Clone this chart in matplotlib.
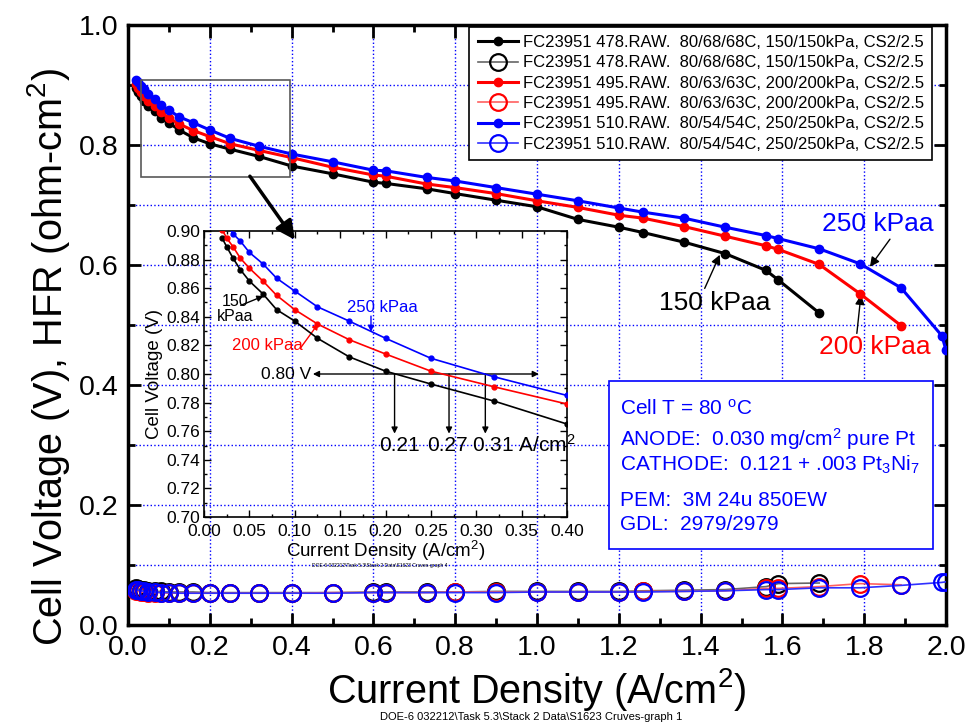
import matplotlib
matplotlib.use("Agg")
import matplotlib.pyplot as plt
from matplotlib.ticker import MultipleLocator, FormatStrFormatter
from matplotlib.patches import Rectangle

# ---------------- data ----------------
current_density = [0.02, 0.025, 0.032, 0.04, 0.05, 0.065, 0.08, 0.1, 0.125, 0.16,
                   0.2, 0.25, 0.32, 0.4, 0.5, 0.6, 0.63, 0.73, 0.8, 0.9,
                   1.0, 1.1, 1.2, 1.26, 1.36, 1.46, 1.56, 1.59, 1.69, 1.79,
                   1.89, 1.99, 2.0]

voltage_150 = [0.895, 0.889, 0.881, 0.873, 0.865, 0.856, 0.845, 0.837, 0.825, 0.812,
               0.802, 0.793, 0.781, 0.765, 0.752, 0.738, 0.736, 0.727, 0.719, 0.708,
               0.697, 0.676, 0.663, 0.654, 0.638, 0.619, 0.591, 0.575, 0.520]
voltage_200 = [0.901, 0.895, 0.889, 0.881, 0.874, 0.865, 0.855, 0.845, 0.835, 0.824,
               0.814, 0.802, 0.791, 0.779, 0.763, 0.750, 0.748, 0.735, 0.729, 0.719,
               0.707, 0.696, 0.683, 0.678, 0.664, 0.648, 0.632, 0.626, 0.601, 0.552,
               0.499]
voltage_250 = [0.909, 0.905, 0.898, 0.893, 0.885, 0.877, 0.867, 0.858, 0.847, 0.837,
               0.825, 0.811, 0.798, 0.785, 0.772, 0.758, 0.757, 0.746, 0.740, 0.729,
               0.718, 0.707, 0.695, 0.688, 0.678, 0.663, 0.649, 0.644, 0.627, 0.602,
               0.562, 0.482, 0.458]

hfr_150 = [0.061, 0.060, 0.059, 0.058, 0.057, 0.056, 0.056, 0.055, 0.055, 0.055,
           0.054, 0.054, 0.054, 0.054, 0.054, 0.055, 0.055, 0.055, 0.055, 0.056,
           0.056, 0.056, 0.056, 0.057, 0.058, 0.059, 0.064, 0.069, 0.070]
hfr_200 = [0.057, 0.056, 0.055, 0.055, 0.054, 0.054, 0.054, 0.053, 0.053, 0.053,
           0.053, 0.053, 0.053, 0.053, 0.054, 0.054, 0.054, 0.054, 0.055, 0.055,
           0.055, 0.055, 0.055, 0.056, 0.056, 0.057, 0.061, 0.061, 0.064, 0.069,
           0.067]
hfr_250 = [0.059, 0.058, 0.057, 0.056, 0.055, 0.055, 0.054, 0.054, 0.053, 0.053,
           0.053, 0.053, 0.053, 0.053, 0.053, 0.054, 0.054, 0.054, 0.054, 0.054,
           0.055, 0.055, 0.055, 0.055, 0.056, 0.057, 0.059, 0.059, 0.062, 0.062,
           0.066, 0.071, 0.072]

legend_labels = [
    "FC23951 478.RAW.  80/68/68C, 150/150kPa, CS2/2.5",
    "FC23951 495.RAW.  80/63/63C, 200/200kPa, CS2/2.5",
    "FC23951 510.RAW.  80/54/54C, 250/250kPa, CS2/2.5",
]
curve_labels = ["150 kPaa", "200 kPaa", "250 kPaa"]
crossing_labels = ["0.21", "0.27", "0.31 A/cm$^2$"]
crossing_currents = [0.21, 0.27, 0.31]
info_lines = [
    "Cell T = 80 $^{o}$C",
    "ANODE:  0.030 mg/cm$^2$ pure Pt",
    "CATHODE:  0.121 + .003 Pt$_3$Ni$_7$",
    "PEM:  3M 24u 850EW",
    "GDL:  2979/2979",
]
caption_main = r"DOE-6 032212\Task 5.3\Stack 2 Data\S1623 Cruves-graph 1"
caption_inset = r"DOE-6 032212\Task 5.3\Stack 2 Data\S1623 Cruves-graph 4"

# ---------------- style ----------------
FONT = ["Liberation Sans", "DejaVu Sans"]
plt.rcParams["font.family"] = FONT
plt.rcParams["mathtext.fontset"] = "custom"
plt.rcParams["mathtext.rm"] = "Liberation Sans"
plt.rcParams["mathtext.default"] = "regular"

W, H = 967, 723
fig = plt.figure(figsize=(W / 100, H / 100), dpi=100)
ax = fig.add_axes([128 / W, 98 / H, 818 / W, 600 / H])

series = [
    (voltage_150, hfr_150, "black", "0.4", legend_labels[0]),
    (voltage_200, hfr_200, "red", "#ff6060", legend_labels[1]),
    (voltage_250, hfr_250, "blue", "#3030ff", legend_labels[2]),
]

for volts, hfr, col, hcol, lab in series:
    x = current_density[:len(volts)]
    ax.plot(x, volts, "-o", color=col, lw=2.2, ms=6, label=lab, zorder=4)
    ax.plot(x, hfr, "-o", color=hcol, lw=1.2, ms=12, mfc="none", mec=col,
            mew=1.6, label=lab, zorder=4)

ax.set_xlim(0, 2.0)
ax.set_ylim(0, 1.0)
ax.xaxis.set_major_locator(MultipleLocator(0.2))
ax.xaxis.set_minor_locator(MultipleLocator(0.1))
ax.yaxis.set_major_locator(MultipleLocator(0.2))
ax.yaxis.set_minor_locator(MultipleLocator(0.1))
ax.xaxis.set_major_formatter(FormatStrFormatter("%.1f"))
ax.yaxis.set_major_formatter(FormatStrFormatter("%.1f"))
ax.grid(axis="x", which="major", color="blue", ls=":", lw=1)
ax.grid(axis="y", which="both", color="blue", ls=":", lw=1)
ax.tick_params(which="both", direction="in", top=True, right=True, width=2)
ax.tick_params(which="major", length=9, labelsize=20.5, pad=7)
ax.tick_params(which="minor", length=5)
for s in ax.spines.values():
    s.set_linewidth(2.5)

ax.set_xlabel("Current Density (A/cm$^2$)", fontsize=28.5)
ax.set_ylabel("Cell Voltage (V), HFR (ohm-cm$^2$)", fontsize=28.5)
ax.xaxis.set_label_coords(0.5, -0.068)
ax.yaxis.set_label_coords(-0.069, 0.447)

leg = ax.legend(loc="upper right", bbox_to_anchor=(0.983, 0.997), fontsize=12,
                fancybox=False, edgecolor="black", framealpha=1,
                handlelength=2.4, handletextpad=0.3, borderpad=0.5,
                labelspacing=0.32, borderaxespad=0)
leg.get_frame().set_linewidth(1.2)
leg.set_zorder(10)

# curve labels on the main plot
arrow_thin = dict(arrowstyle="-|>", color="black", lw=1, mutation_scale=14,
                  shrinkA=0, shrinkB=0)
ax.text(1.834, 0.668, curve_labels[2], color="blue", fontsize=19,
        ha="center", va="center")
ax.annotate("", xy=(1.814, 0.597), xytext=(1.863, 0.643), arrowprops=arrow_thin)
ax.text(1.435, 0.5375, curve_labels[0], color="black", fontsize=19,
        ha="center", va="center")
ax.annotate("", xy=(1.447, 0.617), xytext=(1.41, 0.561), arrowprops=arrow_thin)
ax.text(1.826, 0.463, curve_labels[1], color="red", fontsize=19,
        ha="center", va="center")
ax.annotate("", xy=(1.792, 0.55), xytext=(1.782, 0.486), arrowprops=arrow_thin)

# zoom region marker and pointer to the inset
ax.add_patch(Rectangle((0.031, 0.746), 0.365, 0.163, fill=False,
                       edgecolor="0.35", lw=1.2, zorder=5))
ax.annotate("", xy=(0.408, 0.642), xytext=(0.298, 0.748),
            arrowprops=dict(arrowstyle="-|>", color="black", lw=2.5,
                            mutation_scale=28, shrinkA=0, shrinkB=0), zorder=6)

# info box
ax.add_patch(Rectangle((0.588, 0.1267), 0.396, 0.28, transform=ax.transAxes,
                       facecolor="white", edgecolor="blue", lw=1.2, zorder=7))
info_y = [0.36, 0.31, 0.2667, 0.2083, 0.1667]
for txt, yy in zip(info_lines, info_y):
    ax.text(0.601, yy, txt, transform=ax.transAxes, color="blue", fontsize=15,
            ha="left", va="center", zorder=8)

fig.text(531 / W, 6 / H, caption_main, fontsize=8, ha="center", va="center")

# ---------------- inset ----------------
axin = fig.add_axes([204 / W, (H - 517) / H, 363 / W, 286 / H])
axin.patch.set_alpha(0)
for volts, hfr, col, hcol, lab in series:
    pts = [(i, v) for i, v in zip(current_density, volts) if i <= 0.4]
    axin.plot([p[0] for p in pts], [p[1] for p in pts], "-o", color=col,
              lw=1.2, ms=3.5, zorder=4)
axin.set_xlim(0, 0.4)
axin.set_ylim(0.70, 0.90)
axin.xaxis.set_major_locator(MultipleLocator(0.05))
axin.xaxis.set_minor_locator(MultipleLocator(0.025))
axin.yaxis.set_major_locator(MultipleLocator(0.02))
axin.yaxis.set_minor_locator(MultipleLocator(0.01))
axin.xaxis.set_major_formatter(FormatStrFormatter("%.2f"))
axin.yaxis.set_major_formatter(FormatStrFormatter("%.2f"))
axin.tick_params(which="both", direction="in", top=True, right=True, width=1)
axin.tick_params(which="major", length=5, labelsize=12.5, pad=3)
axin.tick_params(axis="x", which="major", pad=5)
axin.tick_params(which="minor", length=2.5)
for s in axin.spines.values():
    s.set_linewidth(1.2)
axin.set_xlabel("Current Density (A/cm$^2$)", fontsize=13.5, labelpad=0)
axin.set_ylabel("Cell Voltage (V)", fontsize=13.5, labelpad=2)

arrow_in = dict(arrowstyle="-|>", color="black", lw=1, mutation_scale=9,
                shrinkA=0, shrinkB=0)
axin.text(0.034, 0.8455, "150\nkPaa", fontsize=11.5,
          ha="center", va="center", linespacing=1.0)
axin.annotate("", xy=(0.0655, 0.8545), xytext=(0.0405, 0.848),
              arrowprops=arrow_in)
axin.text(0.197, 0.8466, curve_labels[2], fontsize=12,
          color="blue", ha="center", va="center")
axin.annotate("", xy=(0.184, 0.8295), xytext=(0.184, 0.8405),
              arrowprops=dict(arrow_in, color="blue"))
axin.text(0.0698, 0.8202, curve_labels[1], fontsize=12,
          color="red", ha="center", va="center")
axin.annotate("", xy=(0.1262, 0.8355), xytext=(0.106, 0.8179),
              arrowprops=dict(arrow_in, color="red"))

axin.text(0.1185, 0.7997, "0.80 V", fontsize=12.5, ha="right", va="center")
axin.annotate("", xy=(0.369, 0.80), xytext=(0.12, 0.80),
              arrowprops=dict(arrowstyle="<|-|>", color="black", lw=1,
                              mutation_scale=9, shrinkA=0, shrinkB=0))
for ci in crossing_currents:
    axin.annotate("", xy=(ci, 0.7583), xytext=(ci, 0.80), arrowprops=arrow_in)
axin.text(0.215, 0.7502, crossing_labels[0], fontsize=15,
          ha="center", va="center")
axin.text(0.2685, 0.7502, crossing_labels[1], fontsize=15,
          ha="center", va="center")
axin.text(0.2955, 0.7502, crossing_labels[2], fontsize=15,
          ha="left", va="center")

fig.text(380 / W, (H - 566) / H, caption_inset, fontsize=3.6, ha="center",
         va="center")

fig.savefig("out.png", dpi=100)
